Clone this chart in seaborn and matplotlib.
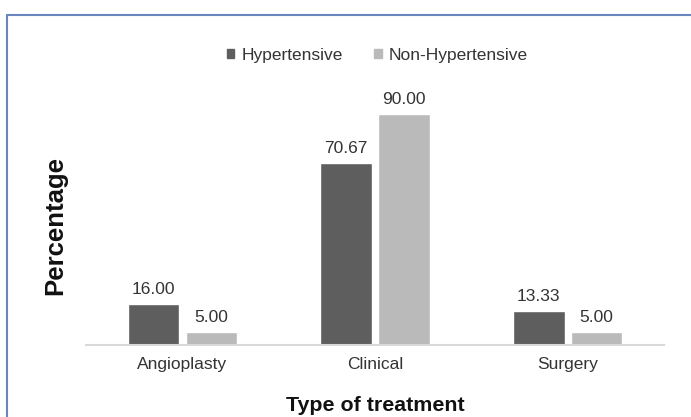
import pandas as pd
import matplotlib.pyplot as plt
import seaborn as sns
from matplotlib.patches import Rectangle

treatments = ["Angioplasty", "Clinical", "Surgery"]
hypertensive = [16.00, 70.67, 13.33]
non_hypertensive = [5.00, 90.00, 5.00]
groups = ["Hypertensive", "Non-Hypertensive"]

df = pd.DataFrame({
    "Treatment": treatments * 2,
    "Group": [groups[0]] * 3 + [groups[1]] * 3,
    "Value": hypertensive + non_hypertensive,
})

sns.set_style("white")
plt.rcParams['font.family'] = ['Liberation Sans', 'DejaVu Sans']

fig = plt.figure(figsize=(6.91, 4.17), dpi=100)
ax = fig.add_axes([0.1245, 0.1727, 0.8365, 0.6163])

palette = {"Hypertensive": "#5e5e5e", "Non-Hypertensive": "#bababa"}
sns.barplot(data=df, x="Treatment", y="Value", hue="Group", palette=palette,
            width=0.6, gap=0.11, saturation=1, ax=ax, legend=False)

for cont in ax.containers:
    ax.bar_label(cont, fmt="%.2f", padding=5, fontsize=12.5, color="#333333")

ax.set_ylim(0, 100)
ax.set_xlim(-0.5, 2.5)
ax.set_yticks([])
for s in ["top", "right", "left"]:
    ax.spines[s].set_visible(False)
ax.spines["bottom"].set_color("#d9d9d9")
ax.spines["bottom"].set_linewidth(1.5)
ax.tick_params(axis="x", length=0, labelsize=12.5, labelcolor="#333333", pad=9)
ax.set_xlabel("Type of treatment", fontsize=15.4, fontweight="bold", color="#111111")
ax.xaxis.set_label_coords(0.5, -0.2)
ax.set_ylabel("Percentage", fontsize=18.5, fontweight="bold", color="#111111")
ax.yaxis.set_label_coords(-0.032, 0.463)

handles = [Rectangle((0, 0), 1, 1, color=palette[g]) for g in groups]
fig.legend(handles, groups, loc="center", bbox_to_anchor=(0.546, 0.868), ncol=2,
           frameon=False, fontsize=12.5, handlelength=0.45, handleheight=0.45,
           handletextpad=0.4, columnspacing=1.8, labelcolor="#333333")

# outer frame (top and left edges visible)
fig.add_artist(plt.Line2D([0.0095, 1.0], [0.965, 0.965], color="#6a86bf", lw=1.5,
                          transform=fig.transFigure))
fig.add_artist(plt.Line2D([0.0095, 0.0095], [0.0, 0.965], color="#6a86bf", lw=1.5,
                          transform=fig.transFigure))

fig.savefig("out.png", dpi=100)
